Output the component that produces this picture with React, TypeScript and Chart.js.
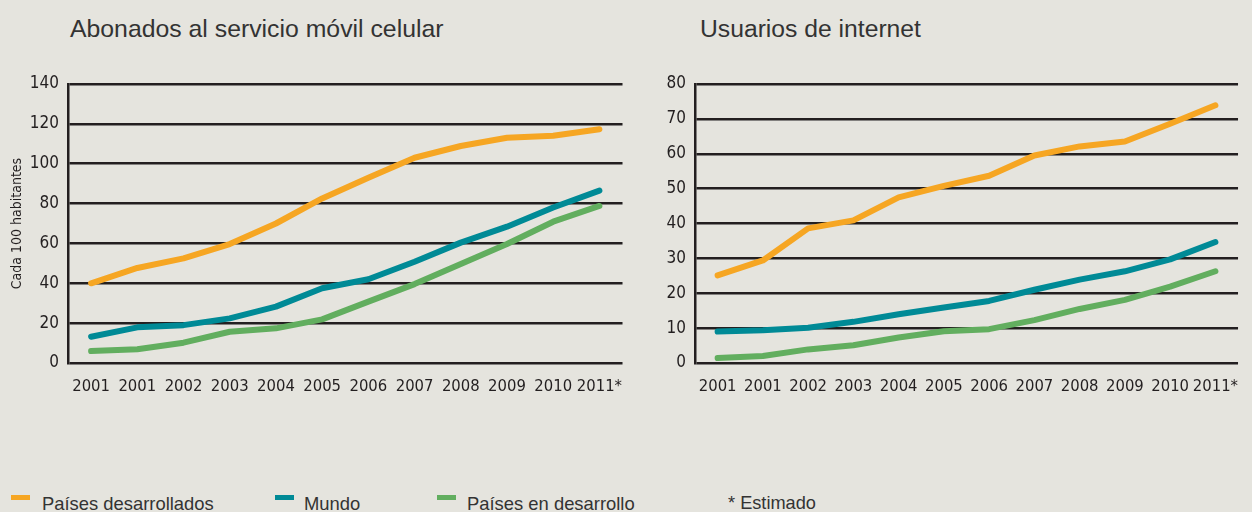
import React, { useEffect, useRef } from "react";
import { Chart, registerables } from "chart.js";
Chart.register(...registerables);

const years = ["2001", "2001", "2002", "2003", "2004", "2005", "2006", "2007", "2008", "2009", "2010", "2011*"];

const mobileDeveloped = [40, 47.7, 52.5, 59.7, 70, 82.6, 93, 103, 108.9, 113, 114, 117.3];
const mobileWorld = [13.2, 17.9, 19, 22.4, 28.3, 37.5, 42, 50.8, 60.4, 68.4, 78, 86.5];
const mobileDeveloping = [6, 6.9, 10.2, 15.7, 17.4, 21.9, 30.8, 39.6, 49.7, 59.7, 70.9, 78.8];

const netDeveloped = [25.1, 29.4, 38.6, 40.9, 47.5, 50.8, 53.7, 59.5, 62.1, 63.5, 68.6, 73.9];
const netWorld = [9, 9.4, 10.1, 11.8, 14, 15.9, 17.8, 21, 23.9, 26.3, 29.7, 34.7];
const netDeveloping = [1.4, 2, 3.9, 5.1, 7.3, 9.1, 9.7, 12.3, 15.5, 18.1, 21.9, 26.3];

const seriesNames = ["Países desarrollados", "Mundo", "Países en desarrollo"];
const seriesColors = ["#f6a623", "#008a96", "#62ae5f"];

const BG = "#e5e4de";
const INK = "#231f20";
const NARROW = "'Liberation Sans Narrow', 'Arial Narrow', 'DejaVu Sans Condensed', sans-serif";
const SANS = "'Liberation Sans', Arial, sans-serif";

type BoxProps = {
  left: number;
  width: number;
  yMax: number;
  yStep: number;
  axisWidth: number;
  yTitle?: string;
  data: number[][];
};

function ChartBox({ left, width, yMax, yStep, axisWidth, yTitle, data }: BoxProps) {
  const ref = useRef<HTMLCanvasElement | null>(null);
  useEffect(() => {
    if (!ref.current) return;
    const chart = new Chart(ref.current, {
      type: "line",
      data: {
        labels: years,
        datasets: data.map((d, i) => ({
          label: seriesNames[i],
          data: d,
          borderColor: seriesColors[i],
          backgroundColor: seriesColors[i],
          borderWidth: 6,
          borderCapStyle: "round" as const,
          borderJoinStyle: "round" as const,
          pointRadius: 0,
          tension: 0,
        })),
      },
      options: {
        animation: false,
        responsive: false,
        maintainAspectRatio: false,
        layout: { padding: { top: 84, left: 0, right: 0, bottom: 0 } },
        plugins: { legend: { display: false }, tooltip: { enabled: false } },
        scales: {
          x: {
            offset: true,
            grid: { display: false, drawTicks: false },
            border: { display: false },
            ticks: { color: INK, font: { family: NARROW, size: 16.5 }, padding: 14, maxRotation: 0, autoSkip: false },
            afterFit: (s: any) => {
              s.height = 37;
            },
          },
          y: {
            min: 0,
            max: yMax,
            grid: { color: INK, lineWidth: 2.5, drawTicks: false },
            border: { display: true, color: INK, width: 2.5 },
            ticks: { stepSize: yStep, color: INK, font: { family: NARROW, size: 17 }, padding: 9 },
            title: yTitle
              ? { display: true, text: yTitle, color: INK, font: { family: NARROW, size: 14 }, padding: { top: 9, bottom: 0 } }
              : { display: false },
            afterFit: (s: any) => {
              s.width = axisWidth;
            },
          },
        },
      },
    });
    return () => chart.destroy();
  }, []);
  return (
    <canvas
      ref={ref}
      width={width}
      height={400}
      style={{ position: "absolute", left, top: 0, width, height: 400 }}
    />
  );
}

export default function App() {
  const legendItems = [
    { x: 11, tx: 42, label: seriesNames[0], color: seriesColors[0] },
    { x: 275, tx: 304, label: seriesNames[1], color: seriesColors[1] },
    { x: 437, tx: 467, label: seriesNames[2], color: seriesColors[2] },
  ];
  return (
    <div
      style={{
        position: "absolute",
        left: 0,
        top: 0,
        width: 1252,
        height: 512,
        background: BG,
        overflow: "hidden",
        fontFamily: SANS,
      }}
    >
      <div style={{ position: "absolute", left: 70, top: 15, fontSize: 24.8, color: "#333", whiteSpace: "nowrap" }}>
        Abonados al servicio móvil celular
      </div>
      <div style={{ position: "absolute", left: 700, top: 15, fontSize: 24.7, color: "#333", whiteSpace: "nowrap" }}>
        Usuarios de internet
      </div>
      <ChartBox
        left={0}
        width={636}
        yMax={140}
        yStep={20}
        axisWidth={68}
        yTitle="Cada 100 habitantes"
        data={[mobileDeveloped, mobileWorld, mobileDeveloping]}
      />
      <ChartBox
        left={650}
        width={602}
        yMax={80}
        yStep={10}
        axisWidth={45}
        data={[netDeveloped, netWorld, netDeveloping]}
      />
      {legendItems.map((it) => (
        <React.Fragment key={it.label}>
          <div style={{ position: "absolute", left: it.x, top: 495, width: 19, height: 5, background: it.color }} />
          <div style={{ position: "absolute", left: it.tx, top: 493, fontSize: 18.4, color: "#333", whiteSpace: "nowrap" }}>
            {it.label}
          </div>
        </React.Fragment>
      ))}
      <div style={{ position: "absolute", left: 728, top: 493, fontSize: 18.2, color: "#333", whiteSpace: "nowrap" }}>
        * Estimado
      </div>
    </div>
  );
}
